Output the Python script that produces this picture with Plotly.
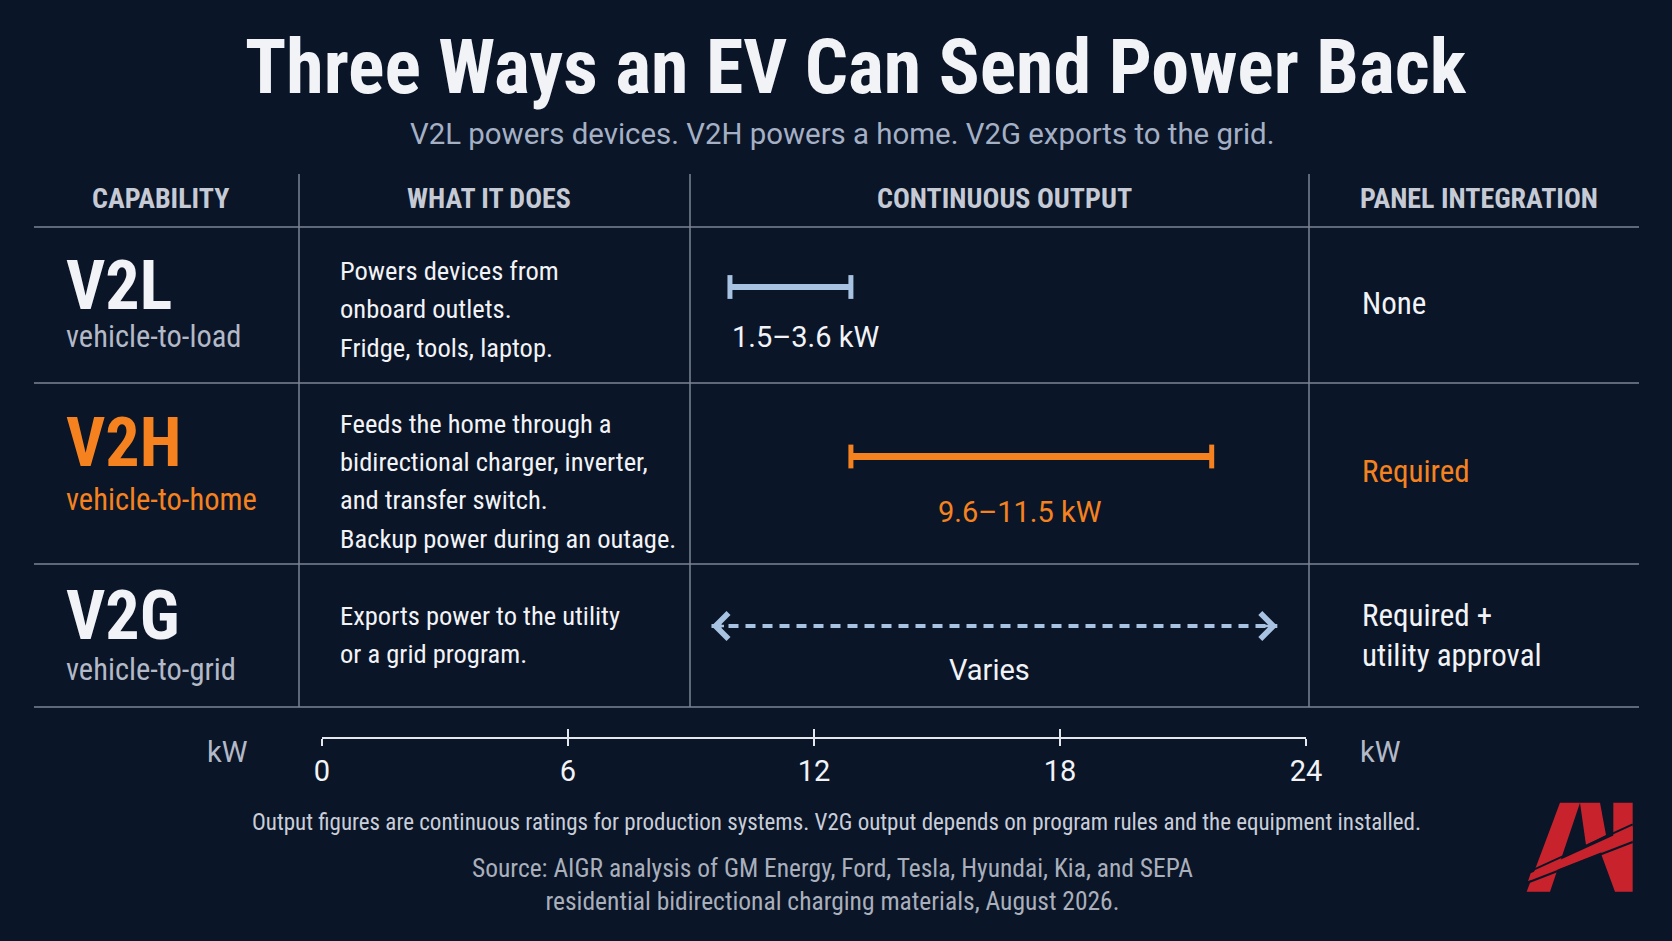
import plotly.graph_objects as go

# --- data -------------------------------------------------------------
capabilities = ["V2L", "V2H", "V2G"]
full_names = ["vehicle-to-load", "vehicle-to-home", "vehicle-to-grid"]
descriptions = [
    ["Powers devices from", "onboard outlets.", "Fridge, tools, laptop."],
    ["Feeds the home through a", "bidirectional charger, inverter,",
     "and transfer switch.", "Backup power during an outage."],
    ["Exports power to the utility", "or a grid program."],
]
output_labels = ["1.5–3.6 kW", "9.6–11.5 kW", "Varies"]
# where each span sits on the drawn kW ruler
span_lo = [9.95, 12.9, 9.5]
span_hi = [12.9, 21.7, 23.3]
panel = ["None", "Required", "Required +<br>utility approval"]
ruler_ticks = [0, 6, 12, 18, 24]
headers = ["CAPABILITY", "WHAT IT DOES", "CONTINUOUS OUTPUT", "PANEL INTEGRATION"]

# --- look -------------------------------------------------------------
W, H = 1672, 941
BG = "#0A1528"
WHITE = "#F2F3F6"
GREY = "#B3B9C6"
LINE = "#7C8494"
ORANGE = "#F5821F"
BLUE = "#A8C2E2"
RED = "#C8232C"
NARROW = "Roboto Condensed, Liberation Sans Narrow, Roboto"
ROBOTO = "Roboto, Noto Sans, sans-serif"

row_colors = [WHITE, ORANGE, WHITE]
sub_colors = [GREY, ORANGE, GREY]
label_colors = [WHITE, ORANGE, WHITE]


def px(x):
    return x / W


def py(y):
    return 1 - y / H


fig = go.Figure()

# spans on the kW scale
for i in range(2):
    c = BLUE if i == 0 else ORANGE
    fig.add_trace(go.Scatter(
        x=[span_lo[i], span_hi[i]], y=[capabilities[i]] * 2,
        mode="lines+markers", line=dict(color=c, width=6 + i),
        marker=dict(symbol="line-ns", size=17, line=dict(width=5, color=c)),
        hoverinfo="skip", showlegend=False,
    ))
fig.add_trace(go.Scatter(
    x=[span_lo[2], span_hi[2]], y=[capabilities[2]] * 2,
    mode="lines", line=dict(color=BLUE, width=4, dash="10px,7px"),
    hoverinfo="skip", showlegend=False,
))

ann = []
# arrow heads on the V2G span
for xv, off in [(span_lo[2], 14), (span_hi[2], -14)]:
    ann.append(dict(x=xv, y=capabilities[2], xref="x", yref="y", text="",
                    showarrow=True, arrowhead=4, arrowsize=2, arrowwidth=2.5,
                    arrowcolor=BLUE, ax=off, ay=0))

# span labels
label_shift = [(0, -50), (-11, -55), (-5, -44)]
for i in range(3):
    if i == 0:
        xv, xa = span_lo[i], "left"
    else:
        xv, xa = (span_lo[i] + span_hi[i]) / 2, "center"
    ann.append(dict(x=xv, y=capabilities[i], xref="x", yref="y",
                    text=output_labels[i], xanchor=xa,
                    xshift=label_shift[i][0], yshift=label_shift[i][1],
                    font=dict(family=ROBOTO, size=29, color=label_colors[i])))

# title block
ann.append(dict(x=px(856), y=py(67), text="Three Ways an EV Can Send Power Back",
                font=dict(family=NARROW, size=76, color=WHITE, weight="bold")))
ann.append(dict(x=px(842), y=py(134), text="V2L powers devices. V2H powers a home. V2G exports to the grid.",
                font=dict(family=ROBOTO, size=29.4, color="#A5B0C4")))

# column headers
for xc, h in zip([160, 489, 1004, 1479], headers):
    ann.append(dict(x=px(xc), y=py(198), text=h,
                    font=dict(family=NARROW, size=28, color="#C5CAD4", weight="bold")))

# row cells
big_y = [286, 443, 616]
sub_y = [336, 500, 669]
desc_top = [270, 423, 615]
desc_step = 38.5
panel_y = [303, 471, 635]
for i in range(3):
    ann.append(dict(x=px(64), y=py(big_y[i]), text=capabilities[i], xanchor="left",
                    font=dict(family=NARROW, size=68, color=row_colors[i], weight="bold")))
    ann.append(dict(x=px(64), y=py(sub_y[i]), text=full_names[i], xanchor="left",
                    font=dict(family=NARROW, size=30.5, color=sub_colors[i])))
    for k, line in enumerate(descriptions[i]):
        ann.append(dict(x=px(338), y=py(desc_top[i] + k * desc_step), text=line, xanchor="left",
                        font=dict(family=NARROW, size=26.5, color=WHITE)))
    ann.append(dict(x=px(1360), y=py(panel_y[i]), text=panel[i], xanchor="left", align="left",
                    font=dict(family=NARROW, size=31, color=ORANGE if i == 1 else WHITE)))

# ruler units
for xc in [228, 1380]:
    ann.append(dict(x=px(xc), y=py(752), text="kW", font=dict(family=ROBOTO, size=29, color=GREY)))

# notes
ann.append(dict(x=0.5, y=py(822),
                text="Output figures are continuous ratings for production systems. "
                     "V2G output depends on program rules and the equipment installed.",
                font=dict(family=NARROW, size=23, color="#C9CED8")))
ann.append(dict(x=0.498, y=py(884),
                text="Source: AIGR analysis of GM Energy, Ford, Tesla, Hyundai, Kia, and SEPA<br>"
                     "residential bidirectional charging materials, August 2026.",
                font=dict(family=NARROW, size=25.5, color="#A9AFBB")))

for a in ann:
    a.setdefault("xref", "paper")
    a.setdefault("yref", "paper")
    a.setdefault("showarrow", False)
    a.setdefault("xanchor", "center")
    a.setdefault("yanchor", "middle")

# table rules
shapes = []
for yy in [227, 383, 564, 707]:
    shapes.append(dict(type="line", xref="paper", yref="paper", x0=px(34), x1=px(1639),
                       y0=py(yy), y1=py(yy), line=dict(color=LINE, width=1.5)))
for xx in [299, 690, 1309]:
    shapes.append(dict(type="line", xref="paper", yref="paper", x0=px(xx), x1=px(xx),
                       y0=py(174), y1=py(707), line=dict(color=LINE, width=1.5)))


# logo (drawn in the coordinates of a 480x390 sketch, placed bottom right)
def logo_path(pts):
    s = ""
    for k, (dx, dy) in enumerate(pts):
        s += ("M" if k == 0 else "L") + f"{px(1500 + dx / 3):.5f},{py(780 + dy / 3):.5f}"
    return s + "Z"


logo_parts = [
    [(180, 68), (240, 68), (150, 335), (80, 335)],
    [(240, 68), (300, 68), (318, 165), (258, 195)],
    [(340, 68), (398, 68), (398, 335), (345, 335), (302, 218), (340, 198)],
    [(92, 280), (398, 140), (398, 180), (84, 304)],
]
for p in logo_parts:
    shapes.append(dict(type="path", xref="paper", yref="paper", path=logo_path(p),
                       fillcolor=RED, line=dict(width=0)))
for a_, b_ in [((88, 275), (398, 133)), ((80, 309), (398, 186))]:
    shapes.append(dict(type="line", xref="paper", yref="paper",
                       x0=px(1500 + a_[0] / 3), y0=py(780 + a_[1] / 3),
                       x1=px(1500 + b_[0] / 3), y1=py(780 + b_[1] / 3),
                       line=dict(color=BG, width=2)))

fig.update_layout(
    width=W, height=H,
    margin=dict(l=0, r=0, t=0, b=0, pad=0, autoexpand=False),
    paper_bgcolor=BG, plot_bgcolor=BG,
    showlegend=False,
    annotations=ann, shapes=shapes,
    xaxis=dict(domain=[px(322), px(1306)], range=[0, 24], tickvals=ruler_ticks,
               showgrid=False, zeroline=False, showline=True, linecolor="#E4E7EC", linewidth=2,
               ticks="outside", ticklen=7, tickwidth=2, tickcolor="#E4E7EC", automargin=False,
               tickfont=dict(family=ROBOTO, size=29, color=WHITE), fixedrange=True),
    xaxis2=dict(overlaying="x", matches="x", anchor="y", side="bottom", range=[0, 24],
                tickvals=ruler_ticks, ticks="inside", ticklen=8, tickwidth=2, tickcolor="#E4E7EC",
                showticklabels=False, showgrid=False, zeroline=False, showline=False, automargin=False),
    yaxis=dict(domain=[py(737), 1], type="category", categoryarray=capabilities, automargin=False,
               range=[(737 - 287) / 169.5, -287 / 169.5], visible=False, fixedrange=True),
)
# give the overlay axis something to hang on
fig.add_trace(go.Scatter(x=[0], y=[capabilities[0]], xaxis="x2", mode="markers",
                         marker=dict(opacity=0), hoverinfo="skip", showlegend=False))

fig.write_html(
    "out.html",
    config={"displayModeBar": False},
    post_script="document.documentElement.style.overflow='hidden';"
                "document.body.style.overflow='hidden';"
                "document.body.style.margin='0';"
                "document.body.style.background='" + BG + "';",
)
